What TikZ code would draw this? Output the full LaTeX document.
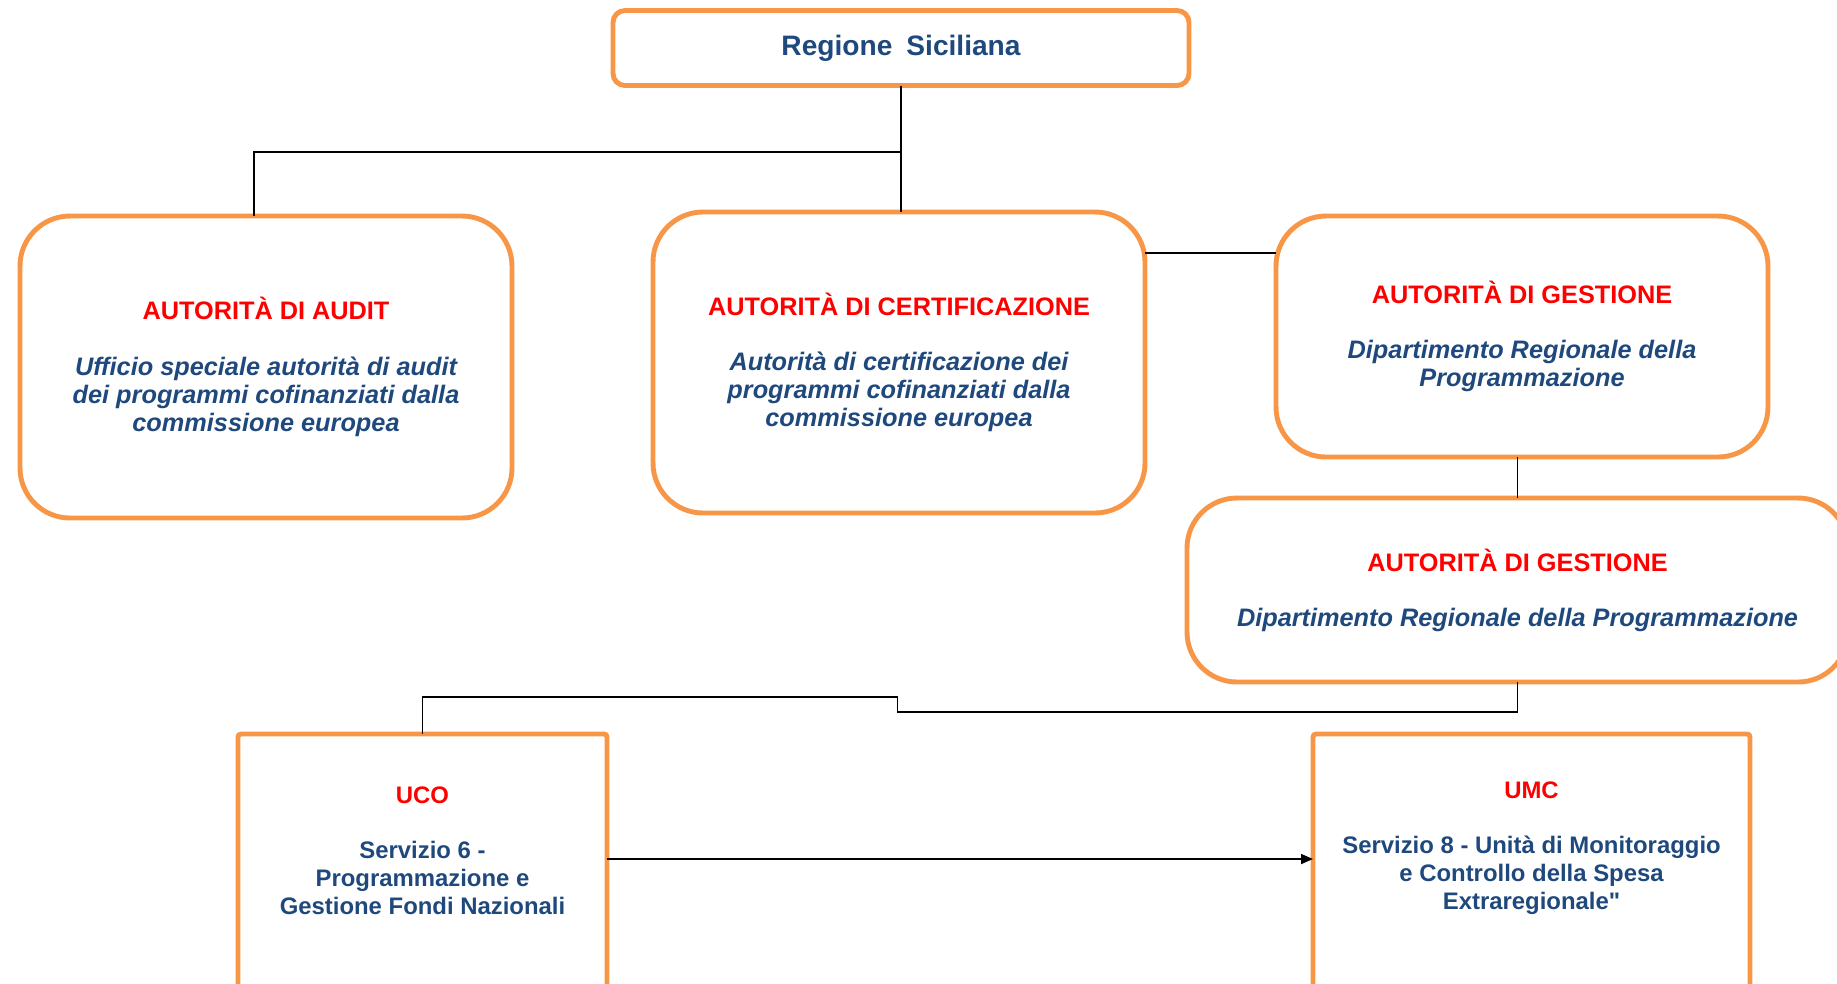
\documentclass[tikz,border=0pt]{standalone}
\usepackage{fontspec}
\setmainfont{Liberation Sans}
\usetikzlibrary{arrows.meta}
\definecolor{arancio}{HTML}{F79646}
\definecolor{blu}{HTML}{1F497D}
\definecolor{rosso}{HTML}{FF0000}
\newcommand{\titolo}[1]{{\upshape\color{rosso}#1}}

\begin{document}
\begin{tikzpicture}[
   ente/.style={draw=arancio, line width=1.4pt, rounded corners=0.5cm, align=center,
      text=blu, inner sep=0pt, outer sep=0pt, minimum width=4.92cm,
      font=\fontsize{7.2}{8}\selectfont\bfseries\itshape},
   unita/.style={draw=arancio, line width=1.4pt, rounded corners=0.03cm, align=center,
      text=blu, inner sep=0pt, outer sep=0pt, minimum height=2.66cm,
      font=\fontsize{6.8}{8}\selectfont\bfseries},
   linea/.style={draw=black, line width=0.45pt},
   freccia/.style={linea, -{Triangle[length=0.12cm,width=0.1cm]}}
]
   \useasboundingbox (0,0) rectangle (18.37,-9.83);
   \clip (0,0) rectangle (18.37,-9.83);

   % vertice
   \node[draw=arancio, line width=1.4pt, rounded corners=0.12cm, text=blu, inner sep=0pt, outer sep=0pt,
      minimum width=5.76cm, minimum height=0.75cm, font=\fontsize{8}{9.6}\selectfont\bfseries]
      (reg) at (9.01,-0.48) {Regione\enspace Siciliana};

   % autorita'
   \node[ente, minimum height=3.02cm] (audit) at (2.66,-3.67)
      {\titolo{AUTORITÀ DI AUDIT}\\[0.27cm]
       Ufficio speciale autorità di audit\\dei programmi cofinanziati dalla\\commissione europea};
   \node[ente, minimum height=3.01cm] (cert) at (8.99,-3.625)
      {\titolo{AUTORITÀ DI CERTIFICAZIONE}\\[0.27cm]
       Autorità di certificazione dei\\programmi cofinanziati dalla\\commissione europea};
   \node[ente, minimum height=2.41cm] (gest1) at (15.22,-3.365)
      {\titolo{AUTORITÀ DI GESTIONE}\\[0.27cm]
       Dipartimento Regionale della\\Programmazione};
   \node[ente, minimum width=6.61cm, minimum height=1.84cm] (gest2) at (15.175,-5.90)
      {\titolo{AUTORITÀ DI GESTIONE}\\[0.27cm]
       Dipartimento Regionale della Programmazione};

   % unita' operative
   \node[unita, minimum width=3.69cm] (uco) at (4.225,-8.67)
      {\titolo{UCO}\\[0.27cm]
       Servizio 6 -\\Programmazione e\\Gestione Fondi Nazionali\\[0.05cm]\mbox{}};
   \node[unita, minimum width=4.37cm] (umc) at (15.315,-8.67)
      {\titolo{UMC}\\[0.27cm]
       Servizio 8 - Unità di Monitoraggio\\e Controllo della Spesa\\Extraregionale\textquotedbl\\[0.15cm]\mbox{}};

   % collegamenti
   \draw[linea] (reg.south) -- ++(0,-0.665) -| ([xshift=-0.12cm]audit.north);
   \draw[linea] (reg.south) -- (reg.south |- cert.north);
   \draw[linea] ([yshift=-0.41cm]cert.north east) -- ([yshift=-0.41cm]cert.north east -| gest1.west);
   \draw[linea] (gest2.north |- gest1.south) -- (gest2.north);
   \draw[linea] (gest2.south) -- ++(0,-0.30) -| ++(-6.20,0.15) -| (uco.north);
   \draw[freccia] ([yshift=0.08cm]uco.east) -- ([yshift=0.08cm]uco.east -| umc.west);
\end{tikzpicture}
\end{document}
